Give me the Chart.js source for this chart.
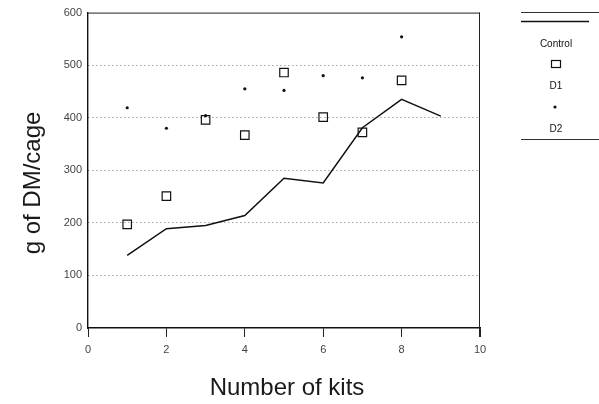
<!DOCTYPE html>
<html>
<head>
<meta charset="utf-8">
<title>g of DM/cage vs number of kits</title>
<script src="https://cdn.jsdelivr.net/npm/chart.js@4.4.1/dist/chart.umd.min.js"></script>
<style>
  html, body { margin: 0; padding: 0; background: #fff; }
  #wrap { width: 599px; height: 404px; position: relative; }
</style>
</head>
<body>
<div id="wrap"><canvas id="chart" width="599" height="404"></canvas></div>
<script>
// Dry matter per cage against number of kits
const kits = [1, 2, 3, 4, 5, 6, 7, 8, 9];
const controlValues = [138, 189, 195, 214, 285, 276, 381, 435, 403];
const d1Kits = [1, 2, 3, 4, 5, 6, 7, 8];
const d1Values = [197, 251, 396, 367, 486, 401, 372, 471];
const d2Kits = [1, 2, 3, 4, 5, 6, 7, 8];
const d2Values = [419, 380, 404, 455, 452, 480, 476, 554];

const xTicks = [0, 2, 4, 6, 8, 10];
const yTicks = [0, 100, 200, 300, 400, 500, 600];
const seriesLabels = ['Control', 'D1', 'D2'];
const xTitle = 'Number of kits';
const yTitle = 'g of DM/cage';

const FONT = '"Liberation Sans", Arial, sans-serif';

function pairs(xs, ys) {
  return xs.map((x, i) => ({ x: x, y: ys[i] }));
}

// Top and right edges of the plot frame
const framePlugin = {
  id: 'frame',
  beforeDatasetsDraw(chart) {
    const a = chart.chartArea;
    const ctx = chart.ctx;
    ctx.save();
    ctx.strokeStyle = '#222';
    ctx.lineWidth = 1;
    ctx.beginPath();
    ctx.moveTo(a.left, a.top + 0.5);
    ctx.lineTo(a.right, a.top + 0.5);
    ctx.moveTo(a.right - 0.5, a.top);
    ctx.lineTo(a.right - 0.5, a.bottom + 9);
    ctx.stroke();
    ctx.restore();
  }
};

// Axis titles in the large thin lettering
const titlesPlugin = {
  id: 'axisTitles',
  afterDraw(chart) {
    const a = chart.chartArea;
    const ctx = chart.ctx;
    ctx.save();
    ctx.fillStyle = '#1a1a1a';
    ctx.font = '24px ' + FONT;
    ctx.textAlign = 'center';
    ctx.textBaseline = 'middle';
    ctx.fillText(xTitle, (a.left + a.right) / 2 + 3, 388);
    ctx.translate(33, 183);
    ctx.rotate(-Math.PI / 2);
    ctx.fillText(yTitle, 0, 0);
    ctx.restore();
  }
};

// Stacked legend: symbol above each series name
const legendPlugin = {
  id: 'stackedLegend',
  afterDraw(chart) {
    const ctx = chart.ctx;
    const cx = 556;
    ctx.save();
    ctx.strokeStyle = '#333';
    ctx.lineWidth = 1;
    ctx.beginPath();
    ctx.moveTo(521, 12.5);
    ctx.lineTo(599, 12.5);
    ctx.moveTo(521, 139.5);
    ctx.lineTo(599, 139.5);
    ctx.stroke();

    const ds = chart.data.datasets;
    ctx.font = '10px ' + FONT;
    ctx.fillStyle = '#111';
    ctx.textAlign = 'center';
    ctx.textBaseline = 'middle';

    // Control: line sample
    ctx.strokeStyle = ds[0].borderColor;
    ctx.lineWidth = 1.4;
    ctx.beginPath();
    ctx.moveTo(521, 21.5);
    ctx.lineTo(589, 21.5);
    ctx.stroke();
    ctx.fillText(ds[0].label, cx, 44);

    // D1: open square
    ctx.strokeStyle = ds[1].borderColor;
    ctx.lineWidth = 1.2;
    ctx.strokeRect(cx - 4.5, 60.5, 9, 7);
    ctx.fillText(ds[1].label, cx, 86);

    // D2: small dot
    ctx.beginPath();
    ctx.arc(cx - 1, 107, 1.6, 0, Math.PI * 2);
    ctx.fill();
    ctx.fillText(ds[2].label, cx, 129);
    ctx.restore();
  }
};

new Chart(document.getElementById('chart'), {
  data: {
    datasets: [
      {
        type: 'line',
        label: seriesLabels[0],
        data: pairs(kits, controlValues),
        borderColor: '#111',
        borderWidth: 1.5,
        pointRadius: 0,
        tension: 0,
        fill: false
      },
      {
        type: 'scatter',
        label: seriesLabels[1],
        data: pairs(d1Kits, d1Values),
        pointStyle: 'rect',
        pointRadius: 6,
        borderColor: '#111',
        borderWidth: 1.2,
        backgroundColor: 'rgba(255,255,255,0)'
      },
      {
        type: 'scatter',
        label: seriesLabels[2],
        data: pairs(d2Kits, d2Values),
        pointStyle: 'circle',
        pointRadius: 1.6,
        borderWidth: 0,
        backgroundColor: '#111',
        borderColor: '#111'
      }
    ]
  },
  options: {
    responsive: false,
    animation: false,
    layout: { padding: { left: 0, top: 12, right: 119, bottom: 0 } },
    plugins: {
      legend: { display: false },
      tooltip: { enabled: false }
    },
    scales: {
      x: {
        type: 'linear',
        min: 0,
        max: 10,
        afterBuildTicks: s => { s.ticks = xTicks.map(v => ({ value: v })); },
        afterFit: s => { s.height = 76; },
        grid: {
          drawOnChartArea: false,
          drawTicks: true,
          tickLength: 9,
          color: '#222',
          lineWidth: 1
        },
        border: { display: true, color: '#111', width: 1.4 },
        ticks: {
          padding: 6,
          color: '#444',
          font: { family: FONT, size: 11 }
        }
      },
      y: {
        type: 'linear',
        min: 0,
        max: 600,
        afterBuildTicks: s => { s.ticks = yTicks.map(v => ({ value: v })); },
        afterFit: s => { s.width = 88; },
        grid: {
          drawTicks: false,
          color: c => (c.tick && (c.tick.value === 0 || c.tick.value === 600)) ? 'rgba(0,0,0,0)' : '#777',
          lineWidth: 1
        },
        border: { display: true, color: '#111', width: 1.4, dash: [1, 3] },
        ticks: {
          padding: 6,
          color: '#444',
          font: { family: FONT, size: 11 }
        }
      }
    }
  },
  plugins: [framePlugin, titlesPlugin, legendPlugin]
});
</script>
</body>
</html>
